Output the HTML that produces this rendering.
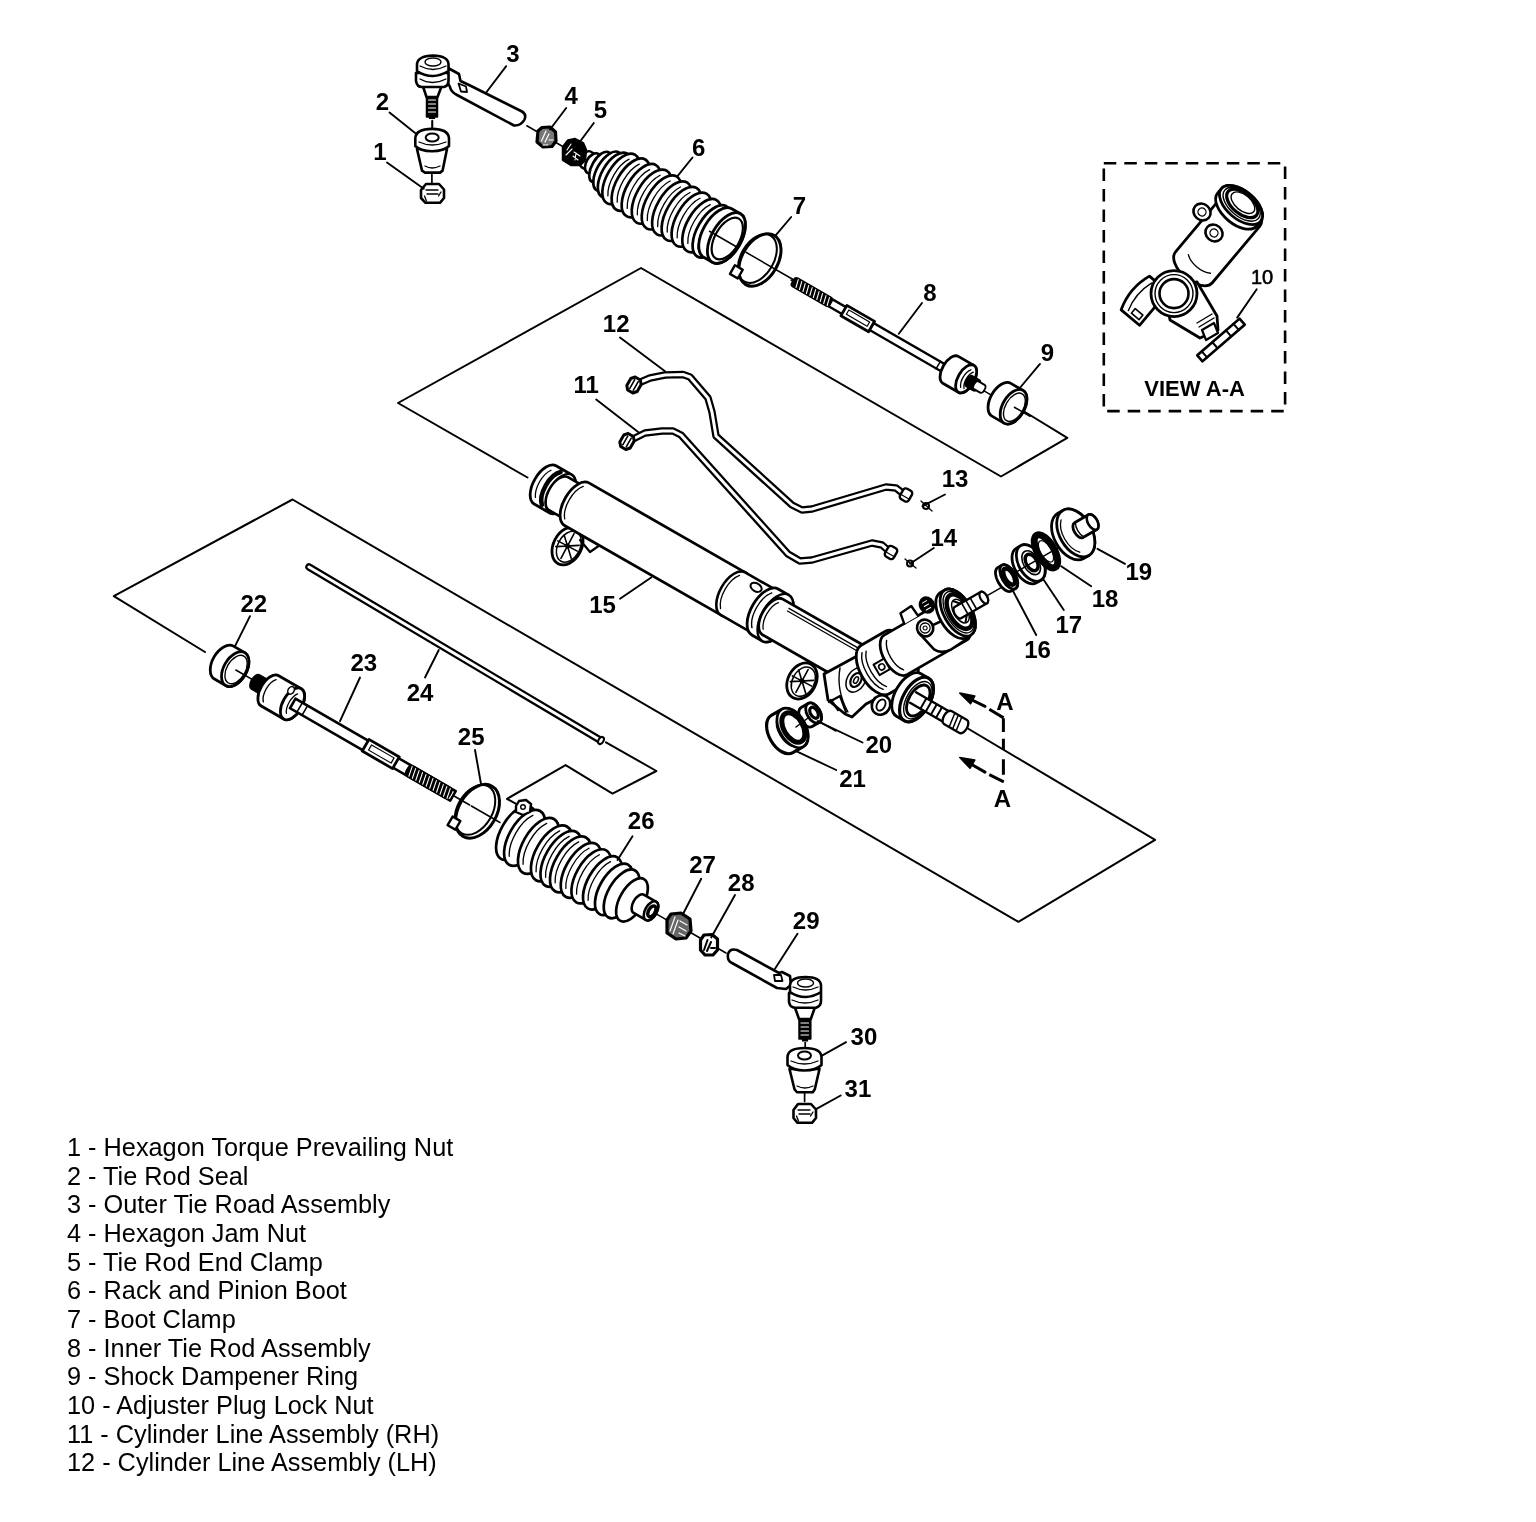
<!DOCTYPE html>
<html><head><meta charset="utf-8"><style>
html,body{margin:0;padding:0;background:#fff;width:1536px;height:1522px;overflow:hidden}
svg{position:absolute;left:0;top:0;filter:grayscale(1)}
.lb{font-family:"Liberation Sans",sans-serif;font-weight:bold;font-size:24px;fill:#000}
.lg{font-family:"Liberation Sans",sans-serif;font-size:25.3px;fill:#000}
</style></head><body>
<svg width="1536" height="1522" viewBox="0 0 1536 1522" stroke-linecap="round" stroke-linejoin="round">
<rect width="1536" height="1522" fill="#fff"/>
<g stroke="#000" fill="none" stroke-width="2">
<polyline points="527.5,477.5 398.0,403.0 641.0,268.0 1001.0,476.5 1067.3,437.8 1025.0,412.0" stroke-width="2" fill="none"/>
<polyline points="205.0,652.0 113.8,596.2 292.5,499.5 1018.4,921.8 1155.1,839.8 962.0,725.0" stroke-width="2" fill="none"/>
<polyline points="517.0,804.4 507.0,798.8 565.6,765.1 612.5,793.6 656.4,771.0 606.0,742.3" stroke-width="2" fill="none"/>
</g>
<g stroke="#000" fill="#fff" stroke-width="2.6">

<path d="M448,68 L459,74 L460.5,81 L470,85.5 L521,111 Q527,114 524.5,119.5 Q521,126 514,125.5 L457,95 Q451,92 450,87 L448,83 Z"/>
<path d="M458.5,83.5 L466,86.5 L467,92 L461,91.5 Z" stroke-width="1.8"/>
<path d="M423,86.5 L426.5,97 L437.5,97 L441.5,86.5 Z"/>
<rect x="426.5" y="97" width="11" height="20" fill="#000" stroke-width="1.5"/>
<path d="M428.5,100 h7 M428.5,104 h7 M428.5,108 h7 M428.5,112 h7" stroke="#fff" stroke-width="1.2"/>
<rect x="429.5" y="116" width="5" height="2.5" fill="#000" stroke-width="1.2"/>
<path d="M416,73 L416,81 Q417,87 422,87 L444,87 Q448.5,86 448.5,80 L448.5,73 Z"/>
<path d="M420,79 Q432,86 446,79" fill="none" stroke-width="1.3"/>
<path d="M417,64 Q418,56 433,55.5 Q448,56 448.5,64 L448.5,71 Q440,76 433,76 Q424,76 417,71 Z"/>
<ellipse cx="433" cy="62" rx="8" ry="4" fill="none" stroke-width="1.4"/>
<path d="M420,66 Q433,73 446,66" fill="none" stroke-width="1.3"/>
<path d="M432.3,120.5 V127.5" stroke-width="1.7"/>


<path d="M417,149 L422,170.6 L425,172.6 L440,172.6 L442.6,170.6 L447,149 Z"/>
<path d="M425,166 Q432,170 440,166" fill="none" stroke-width="1.3"/>
<path d="M415.3,138 Q416,129 432,128.9 Q448,129 449,138 L449,146 Q444,151 432,151.2 Q420,151 415.3,146 Z"/>
<path d="M419,142 Q432,148 446,142" fill="none" stroke-width="1.3"/>
<ellipse cx="432.2" cy="137.5" rx="6.5" ry="4" stroke-width="2"/>
<path d="M432.3,121 V127.5 M431.9,174.5 V183.5" stroke-width="1.7"/>


<path d="M421,190 L426,184 L439,184 L444,189.5 L444,198 L440,202.8 L425.5,202.8 L421,198 Z"/>
<path d="M426,190 L438,190 M427,194 L438,194 M424.5,196 L426.5,201 M438.5,196 L441,192" fill="none" stroke-width="1.3"/>

</g>
<g transform="translate(545,136.25) rotate(30)" stroke="#000" fill="#fff">
<path d="M-21,0 H-10 M9,0 H22 M44,0 H52 M300,1.5 H285 M455,1.5 H470 M505,1 H528" stroke-width="1.5" fill="none"/>
<path d="M47.0,-9.5 L56.0,-9.5 A4.8,9.0 0 0 1 56.0,8.5 L47.0,8.5 A4.8,9.0 0 0 1 47.0,-9.5 Z" stroke-width="2.4" fill="#fff"/>
<ellipse cx="55.0" cy="-0.5" rx="6.6" ry="11.0" stroke-width="2.6" fill="#fff" />
<ellipse cx="63.5" cy="-1.0" rx="8.5" ry="17.0" stroke-width="2.7" fill="#fff" />
<ellipse cx="72.0" cy="-1.0" rx="11.0" ry="22.0" stroke-width="2.7" fill="#fff" />
<ellipse cx="79.5" cy="-1.0" rx="12.5" ry="25.0" stroke-width="2.7" fill="#fff" />
<ellipse cx="87.0" cy="-1.0" rx="14.0" ry="28.0" stroke-width="2.7" fill="#fff" />
<path d="M84.3,-22.2 A13.2,26.5 0 0 0 84.3,20.2" fill="none" stroke-width="1.3"/>
<ellipse cx="98.5" cy="-1.0" rx="14.5" ry="29.0" stroke-width="2.7" fill="#fff" />
<path d="M95.5,-23.0 A13.8,27.5 0 0 0 95.5,21.0" fill="none" stroke-width="1.3"/>
<ellipse cx="110.5" cy="-1.0" rx="14.8" ry="29.5" stroke-width="2.7" fill="#fff" />
<path d="M107.3,-23.4 A14.0,28.0 0 0 0 107.3,21.4" fill="none" stroke-width="1.3"/>
<ellipse cx="122.5" cy="-1.0" rx="15.0" ry="30.0" stroke-width="2.7" fill="#fff" />
<path d="M119.2,-23.8 A14.2,28.5 0 0 0 119.2,21.8" fill="none" stroke-width="1.3"/>
<ellipse cx="134.0" cy="-1.0" rx="15.0" ry="30.0" stroke-width="2.7" fill="#fff" />
<path d="M130.7,-23.8 A14.2,28.5 0 0 0 130.7,21.8" fill="none" stroke-width="1.3"/>
<ellipse cx="146.0" cy="-1.0" rx="15.0" ry="30.0" stroke-width="2.7" fill="#fff" />
<path d="M142.7,-23.8 A14.2,28.5 0 0 0 142.7,21.8" fill="none" stroke-width="1.3"/>
<ellipse cx="157.0" cy="-1.0" rx="15.0" ry="30.0" stroke-width="2.7" fill="#fff" />
<path d="M153.7,-23.8 A14.2,28.5 0 0 0 153.7,21.8" fill="none" stroke-width="1.3"/>
<ellipse cx="168.5" cy="-1.0" rx="15.0" ry="30.0" stroke-width="2.7" fill="#fff" />
<path d="M165.2,-23.8 A14.2,28.5 0 0 0 165.2,21.8" fill="none" stroke-width="1.3"/>
<ellipse cx="180.5" cy="-1.0" rx="14.8" ry="29.5" stroke-width="2.7" fill="#fff" />
<path d="M177.3,-23.4 A14.0,28.0 0 0 0 177.3,21.4" fill="none" stroke-width="1.3"/>
<ellipse cx="192.0" cy="-1.0" rx="14.5" ry="29.0" stroke-width="2.7" fill="#fff" />
<path d="M189.0,-23.0 A13.8,27.5 0 0 0 189.0,21.0" fill="none" stroke-width="1.3"/>
<path d="M198.0,-30.5 L208.0,-30.5 A14.8,28.0 0 0 1 208.0,25.5 L198.0,25.5 A14.8,28.0 0 0 1 198.0,-30.5 Z" stroke-width="2.8" fill="#fff"/>
<ellipse cx="208.0" cy="-2.5" rx="14.8" ry="28.0" stroke-width="2.8" fill="#fff" />
<ellipse cx="209.0" cy="-2.5" rx="12.2" ry="23.0" stroke-width="2.2" fill="#fff" />
<path d="M190,0 H222" stroke-width="1.5" fill="none"/>
<g transform="translate(248,-0.3)">
<ellipse rx="18" ry="28.4" fill="none" stroke-width="3"/><ellipse cx="-3" rx="16.5" ry="26.5" fill="none" stroke-width="2"/>
<rect x="-19" y="17" width="9" height="10" stroke-width="2.4"/>
</g>
<path d="M232,0 H288" stroke-width="1.5" fill="none"/>
<rect x="330" y="-2.5" width="140" height="8" stroke-width="2.3"/>
<rect x="346" y="-4.5" width="32" height="12" stroke-width="2.8"/>
<rect x="350" y="-1.5" width="24" height="5" stroke-width="1.2"/>
<rect x="287" y="-3.5" width="44" height="10" rx="3" fill="#000" stroke-width="1.5"/>
<path d="M291,-2.5 l2,8 M295,-2.5 l2,8 M299,-2.5 l2,8 M303,-2.5 l2,8 M307,-2.5 l2,8 M311,-2.5 l2,8 M315,-2.5 l2,8 M319,-2.5 l2,8 M323,-2.5 l2,8 M327,-2.5 l2,8" stroke="#fff" stroke-width="1.1"/>
<path d="M455,-3 V6 M462,-3 V6" stroke-width="1.5"/>
<path d="M468.0,-16.0 L486.0,-16.0 A8.2,15.5 0 0 1 486.0,15.0 L468.0,15.0 A8.2,15.5 0 0 1 468.0,-16.0 Z" stroke-width="2.8" fill="#fff"/>
<ellipse cx="486.0" cy="-0.5" rx="8.2" ry="15.5" stroke-width="2.8" fill="#fff" />
<path d="M485.6,-10.7 A6.4,12.0 0 0 0 485.6,9.7" fill="none" stroke-width="1.3"/>
<path d="M488.9,-9.8 A5.8,11.0 0 0 0 488.9,8.8" fill="none" stroke-width="1.3"/>
<path d="M490.0,-6.0 L498.0,-6.0 A3.2,6.0 0 0 1 498.0,6.0 L490.0,6.0 A3.2,6.0 0 0 1 490.0,-6.0 Z" stroke-width="2" fill="#000"/>
<path d="M498.0,-4.5 L505.0,-4.5 A2.4,4.5 0 0 1 505.0,4.5 L498.0,4.5 A2.4,4.5 0 0 1 498.0,-4.5 Z" stroke-width="1.8" fill="#fff"/>
<path d="M527.0,-18.9 L541.0,-18.9 A10.9,18.9 0 0 1 541.0,18.9 L527.0,18.9 A10.9,18.9 0 0 1 527.0,-18.9 Z" stroke-width="2.8" fill="#fff"/>
<ellipse cx="541.0" cy="0.0" rx="10.9" ry="18.9" stroke-width="2.8" fill="#fff" />
<ellipse cx="542.0" cy="0.0" rx="8.9" ry="15.5" stroke-width="1.4" fill="#fff" />
<path d="M542,0 H560" stroke-width="1.5" fill="none"/>
</g>
<g stroke="#000" stroke-width="2">
<path d="M538,131 L542,127.5 L550,127 L555.5,132 L556,141 L552,146.5 L543,147 L537,142 Z" fill="#777" stroke-width="3.2"/>
<path d="M541.5,141 L546,131 M545,142 L549,134 M549,140 h4 M543,145 h5" stroke="#fff" stroke-width="1.2" fill="none"/>
<path d="M563,147 L568,140.5 L575,139 L583,143 L586,150 L585,160 L580,165 L571,165 L563,160 Z" fill="#000" stroke-width="2.5"/>
<path d="M567,150 L571,144 M566,155 L572,149 M574,152 L580,156 M573,156 L578,160 M576,153 L575,160" stroke="#fff" stroke-width="1.1" fill="none"/>
</g>
<path d="M636.0,384.0 L650.0,378.0 L665.0,375.0 L683.0,374.5 L690.0,377.0 L708.0,398.0 L712.0,412.0 L716.0,436.0 L792.0,505.0 L802.0,510.0 L812.0,509.0 L886.0,487.0 L896.0,488.0 L905.0,495.0" fill="none" stroke="#000" stroke-width="7.5" stroke-linejoin="round"/><path d="M636.0,384.0 L650.0,378.0 L665.0,375.0 L683.0,374.5 L690.0,377.0 L708.0,398.0 L712.0,412.0 L716.0,436.0 L792.0,505.0 L802.0,510.0 L812.0,509.0 L886.0,487.0 L896.0,488.0 L905.0,495.0" fill="none" stroke="#fff" stroke-width="3.0" stroke-linejoin="round"/>
<path d="M629.0,441.0 L645.0,433.0 L662.0,431.0 L673.0,431.0 L681.0,435.0 L788.0,554.0 L800.0,561.0 L812.0,560.0 L872.0,543.0 L882.0,545.0 L890.0,552.0" fill="none" stroke="#000" stroke-width="7.5" stroke-linejoin="round"/><path d="M629.0,441.0 L645.0,433.0 L662.0,431.0 L673.0,431.0 L681.0,435.0 L788.0,554.0 L800.0,561.0 L812.0,560.0 L872.0,543.0 L882.0,545.0 L890.0,552.0" fill="none" stroke="#fff" stroke-width="3.0" stroke-linejoin="round"/>
<g stroke="#000" stroke-width="2.4" fill="#fff">
<g transform="translate(634,385) rotate(30)"><path d="M-6,-4 L-3,-7.5 L3,-7.5 L6,-4 L6,4 L3,7.5 L-3,7.5 L-6,4 Z" stroke-width="3"/><path d="M-2,-5 V5 M2,-5 V5" stroke-width="1.6"/></g>
<g transform="translate(627,441.5) rotate(30)"><path d="M-6,-4 L-3,-7.5 L3,-7.5 L6,-4 L6,4 L3,7.5 L-3,7.5 L-6,4 Z" stroke-width="3"/><path d="M-2,-5 V5 M2,-5 V5" stroke-width="1.6"/></g>
<g transform="translate(906,495) rotate(-60)"><rect x="-6" y="-5" width="12" height="10" rx="3"/><path d="M-2,-5 V5" stroke-width="1.2"/></g>
<g transform="translate(891,552.5) rotate(-60)"><rect x="-6" y="-5" width="12" height="10" rx="3"/><path d="M-2,-5 V5" stroke-width="1.2"/></g>
<circle cx="926" cy="506" r="3" stroke-width="2"/><path d="M921,501 L932,511" stroke-width="1.3"/>
<circle cx="910" cy="563.5" r="3" stroke-width="2"/><path d="M905,559 L916,568" stroke-width="1.3"/>
</g>
<g transform="translate(604.1,518.7) rotate(29.8)" stroke="#000" fill="#fff">
</g>
<g stroke="#000" fill="#fff">
<g transform="translate(567.5,546) rotate(28)"><ellipse rx="14" ry="20" stroke-width="2.8"/><ellipse cx="1.5" rx="11" ry="16.5" stroke-width="1.5"/><path d="M-8,-8 L9,9 M-10,6 L10,-6 M0,-14 V14 M-11,0 H11" stroke-width="1.6"/><circle r="2" fill="#000" stroke-width="1"/></g>
<path d="M580,540 L590,552 L600,545" stroke-width="2.2" fill="none"/>
<g transform="translate(802,681) rotate(28)"><ellipse rx="14" ry="19" stroke-width="2.8"/><ellipse cx="1.5" rx="11" ry="15.5" stroke-width="1.5"/><path d="M-8,-8 L9,9 M-10,6 L10,-6 M0,-13 V13 M-11,0 H11" stroke-width="1.6"/><circle r="2" fill="#000" stroke-width="1"/></g>
</g>
<g transform="translate(604.1,518.7) rotate(29.8)" stroke="#000" fill="#fff">
<path d="M-68.0,-22.0 L-50.0,-22.0 A11.7,22.0 0 0 1 -50.0,22.0 L-68.0,22.0 A11.7,22.0 0 0 1 -68.0,-22.0 Z" stroke-width="2.8" fill="#fff"/>
<path d="M-60.9,-18.9 A11.1,21.0 0 0 0 -60.9,18.9" fill="none" stroke-width="4.5"/>
<path d="M-70.2,-15.6 A10.3,19.5 0 0 0 -70.2,15.6" fill="none" stroke-width="1.3"/>
<ellipse cx="-50.0" cy="0.0" rx="11.7" ry="22.0" stroke-width="2.4" fill="#fff" />
<path d="M-52.0,-18.0 L-32.0,-18.0 A10.1,19.0 0 0 1 -32.0,20.0 L-52.0,20.0 A10.1,19.0 0 0 1 -52.0,-18.0 Z" stroke-width="2.6" fill="#fff"/>
<path d="M-31.0,-23.5 L150.0,-23.5 A13.0,24.5 0 0 1 150.0,25.5 L-31.0,25.5 A13.0,24.5 0 0 1 -31.0,-23.5 Z" stroke-width="2.8" fill="#fff"/>
<path d="M-34.1,-17.7 A11.7,22.0 0 0 0 -34.1,19.7" fill="none" stroke-width="1.3"/>
<ellipse cx="150.0" cy="1.0" rx="13.0" ry="24.5" stroke-width="2.4" fill="#fff" />
<path d="M149.0,-23.5 L186.0,-23.5 A13.0,24.5 0 0 1 186.0,25.5 L149.0,25.5 A13.0,24.5 0 0 1 149.0,-23.5 Z" stroke-width="2.6" fill="#fff"/>
<path d="M145.7,-18.1 A11.9,22.5 0 0 0 145.7,20.1" fill="none" stroke-width="1.3"/>
<ellipse cx="166" cy="-16" rx="6" ry="4" stroke-width="2"/>
<path d="M186.0,-25.5 L198.0,-25.5 A14.0,26.5 0 0 1 198.0,27.5 L186.0,27.5 A14.0,26.5 0 0 1 186.0,-25.5 Z" stroke-width="2.8" fill="#fff"/>
<path d="M182.4,-19.0 A12.5,23.5 0 0 0 182.4,21.0" fill="none" stroke-width="1.4"/>
<ellipse cx="198.0" cy="1.0" rx="14.0" ry="26.5" stroke-width="2.4" fill="#fff" />
<path d="M195.0,-19.0 L290.0,-19.0 A10.9,20.5 0 0 1 290.0,22.0 L195.0,22.0 A10.9,20.5 0 0 1 195.0,-19.0 Z" stroke-width="2.8" fill="#fff"/>
<path d="M193.0,-13.8 A9.5,18.0 0 0 0 193.0,16.8" fill="none" stroke-width="1.3"/>
<path d="M205,-14 H300 M205,-11 H300" stroke-width="1.3"/>
</g>
<g stroke="#000" fill="#fff">
<path d="M824,674 L857,656 L883,650 L893,690 L866,704 L852,717 L845,714 L828,700 Z" stroke-width="2.8"/>
<g transform="translate(856,680) rotate(30)"><ellipse rx="9" ry="13" stroke-width="1.5"/><ellipse rx="5" ry="7.5" stroke-width="2.2"/><ellipse rx="2" ry="3.5" stroke-width="1.5"/></g>
<path d="M840,668 Q836,690 848,712" fill="none" stroke-width="1.4"/>
<path d="M829,702 L840,696 L846,712 M831,700 L838,710" fill="none" stroke-width="2.2"/>
<g transform="translate(881,705) rotate(30)"><ellipse rx="9" ry="10" stroke-width="2.6"/><ellipse rx="4" ry="6" stroke-width="1.8"/></g>
</g>
<g transform="translate(957.8,612.6) rotate(-30)" stroke="#000" fill="#fff">
<path d="M-100.0,-20.0 L-72.0,-20.0 A14.8,28.0 0 0 1 -72.0,36.0 L-100.0,36.0 A14.8,28.0 0 0 1 -100.0,-20.0 Z" stroke-width="2.8" fill="#fff"/>
<path d="M-103.0,-13.2 A13.2,25.0 0 0 0 -103.0,29.2" fill="none" stroke-width="1.4"/>
<path d="M-98.7,-12.4 A12.7,24.0 0 0 0 -98.7,28.4" fill="none" stroke-width="1.4"/>
<path d="M-75.0,-17.3 L-6.0,-17.3 A12.1,22.8 0 0 1 -6.0,28.3 L-75.0,28.3 A12.1,22.8 0 0 1 -75.0,-17.3 Z" stroke-width="2.8" fill="#fff"/>
<path d="M-75.6,-11.5 A10.6,20.0 0 0 0 -75.6,22.5" fill="none" stroke-width="1.4"/>
<rect x="-99" y="3" width="12" height="12" stroke-width="2"/><circle cx="-93" cy="9" r="3" stroke-width="1.6"/>
<path d="M-52,-17 L-50,-28 L-37,-29 L-36,-17" stroke-width="2.4"/>
<g transform="translate(-23,-22)"><ellipse rx="7" ry="8" fill="#000" stroke-width="2"/><path d="M-3,-4 h5 M-3,0 h5 M-3,4 h5" stroke="#fff" stroke-width="1"/></g>
<path d="M-44,-3 L-39,20 Q-35,28 -24,28.5 L-6,27.5 L-8,0 Z" stroke-width="2.6"/>
<g transform="translate(-36,-3)"><ellipse rx="8" ry="8.5" stroke-width="2.6"/><circle r="5" stroke-width="1.3"/><circle r="2" stroke-width="1"/></g>
<path d="M-5.0,-26.0 L0.0,-26.0 A13.8,26.0 0 0 1 0.0,26.0 L-5.0,26.0 A13.8,26.0 0 0 1 -5.0,-26.0 Z" stroke-width="2.8" fill="#fff"/>
<ellipse cx="0.0" cy="0.0" rx="13.8" ry="26.0" stroke-width="2.8" fill="#fff" />
<ellipse cx="1.0" cy="0.0" rx="12.2" ry="23.0" stroke-width="1.4" fill="#fff" />
<ellipse cx="2.0" cy="0.0" rx="10.1" ry="19.0" stroke-width="4.5" fill="#fff" />
<ellipse cx="3.0" cy="0.0" rx="6.9" ry="13.0" stroke-width="1.5" fill="#fff" />
<path d="M2,-12 L8,-5 M2,12 L8,5" stroke-width="2"/>
<path d="M0.0,-6.5 L30.0,-6.5 A3.4,6.5 0 0 1 30.0,6.5 L0.0,6.5 A3.4,6.5 0 0 1 0.0,-6.5 Z" stroke-width="2.4" fill="#fff"/>
<ellipse cx="30.0" cy="0.0" rx="3.4" ry="6.5" stroke-width="2.2" fill="#fff" />
<path d="M8,-6.5 V6.5 M13,-6.5 V6.5 M18,-6.5 V6.5" stroke-width="1.6"/>
<path d="M34,0 H52" stroke-width="1.5" fill="none"/>
</g>
<g transform="translate(916.5,699.5) rotate(30)" stroke="#000" fill="#fff">
<path d="M-9.0,-24.5 L0.0,-24.5 A13.5,24.5 0 0 1 0.0,24.5 L-9.0,24.5 A13.5,24.5 0 0 1 -9.0,-24.5 Z" stroke-width="2.8" fill="#fff"/>
<ellipse cx="0.0" cy="0.0" rx="13.5" ry="24.5" stroke-width="3.2" fill="#fff" />
<ellipse cx="1.5" cy="0.0" rx="11.3" ry="20.5" stroke-width="1.4" fill="#fff" />
<ellipse cx="2.0" cy="0.0" rx="9.4" ry="17.0" stroke-width="2.8" fill="#fff" />
<path d="M-4,-6 L52,-6 L52,6 L-4,6" stroke-width="2.4"/>
<path d="M8,-6 V6 M14,-6 V6 M20,-6 V6 M26,-6 V6" stroke-width="2"/>
<path d="M36.0,-7.5 L54.0,-7.5 A4.0,7.5 0 0 1 54.0,7.5 L36.0,7.5 A4.0,7.5 0 0 1 36.0,-7.5 Z" stroke-width="2.4" fill="#fff"/>
<path d="M40,-7.5 l2,15 M44,-7.5 l2,15 M48,-7.5 l2,15" stroke-width="1.5"/>
</g>
<g transform="translate(957.8,612.6) rotate(-30)" stroke="#000" fill="#fff">
<path d="M57.0,-19.0 L62.0,-19.0 A6.8,13.5 0 0 1 62.0,8.0 L57.0,8.0 A6.8,13.5 0 0 1 57.0,-19.0 Z" stroke-width="2.8" fill="#fff"/>
<ellipse cx="62.0" cy="-5.5" rx="6.8" ry="13.5" stroke-width="2.8" fill="#fff" />
<ellipse cx="62.5" cy="-5.5" rx="4.5" ry="9.0" stroke-width="4.5" fill="#fff" />
<path d="M83.0,-26.5 L88.0,-26.5 A12.0,20.0 0 0 1 88.0,13.5 L83.0,13.5 A12.0,20.0 0 0 1 83.0,-26.5 Z" stroke-width="2.8" fill="#fff"/>
<ellipse cx="88.0" cy="-6.5" rx="12.0" ry="20.0" stroke-width="2.8" fill="#fff" />
<ellipse cx="88.5" cy="-6.5" rx="7.8" ry="13.0" stroke-width="1.6" fill="#fff" />
<ellipse cx="89.0" cy="-6.5" rx="5.4" ry="9.0" stroke-width="3.5" fill="#fff" />
<ellipse cx="107.0" cy="-9.0" rx="8.3" ry="18.5" stroke-width="7" fill="none" />
<ellipse cx="107.0" cy="-9.0" rx="5.4" ry="12.0" stroke-width="1.2" fill="none" />
<path d="M70,-6 H125" stroke-width="1.5" fill="none"/>
<path d="M136.0,-36.0 L142.0,-36.0 A16.1,26.0 0 0 1 142.0,16.0 L136.0,16.0 A16.1,26.0 0 0 1 136.0,-36.0 Z" stroke-width="2.8" fill="#fff"/>
<ellipse cx="142.0" cy="-10.0" rx="16.1" ry="26.0" stroke-width="2.8" fill="#fff" />
<path d="M135.8,-28.7 A13.6,22.0 0 0 0 135.8,8.7" fill="none" stroke-width="1.3"/>
<path d="M146.0,-19.5 L162.0,-19.5 A4.7,8.5 0 0 1 162.0,-2.5 L146.0,-2.5 A4.7,8.5 0 0 1 146.0,-19.5 Z" stroke-width="2.8" fill="#fff"/>
<ellipse cx="162.0" cy="-11.0" rx="4.7" ry="8.5" stroke-width="2.6" fill="#fff" />
<path d="M146.9,-19.4 A7.2,12.0 0 0 0 146.9,-2.6" fill="none" stroke-width="1.4"/>
</g>
<g stroke="#000" fill="#fff">
<g transform="translate(811,714.5) rotate(-30)"><path d="M-5.0,-11.0 L3.0,-11.0 A6.6,11.0 0 0 1 3.0,11.0 L-5.0,11.0 A6.6,11.0 0 0 1 -5.0,-11.0 Z" stroke-width="2.8" fill="#fff"/><ellipse cx="3.0" cy="0.0" rx="6.6" ry="11.0" stroke-width="2.8" fill="#fff" /><ellipse cx="3.5" cy="0.0" rx="3.6" ry="6.0" stroke-width="3.2" fill="#fff" /></g>
<path d="M818,721 L836,731" stroke-width="1.5"/>
<g transform="translate(789,730) rotate(-30)"><path d="M-8.0,-21.5 L4.0,-21.5 A12.9,21.5 0 0 1 4.0,21.5 L-8.0,21.5 A12.9,21.5 0 0 1 -8.0,-21.5 Z" stroke-width="3.2" fill="#fff"/><ellipse cx="4.0" cy="0.0" rx="12.9" ry="21.5" stroke-width="2.6" fill="#fff" /><ellipse cx="5.0" cy="0.0" rx="9.6" ry="16.0" stroke-width="5" fill="#fff" /><path d="M-5.0,-16.1 A11.4,19.0 0 0 0 -5.0,16.1" fill="none" stroke-width="1.3"/></g>
<path d="M796,727 L808,718" stroke-width="1.5"/>
</g>
<g stroke="#000" fill="#000">
<path d="M959.8,693.1 L974.8,696.1 L970.5,703.8 Z" stroke-width="1.5"/>
<path d="M970,699 L985,706.3" stroke-width="3"/>
<path d="M959.8,757.6 L974.8,760.1 L970,768.3 Z" stroke-width="1.5"/>
<path d="M970,763.5 L985,772.1" stroke-width="3"/>
<path d="M989.3,709.3 L1003.6,717.9 M1003.4,718.3 V732 M1003.4,738.8 V749.9 M1003.4,759.3 V774.7 M989.3,774.7 L1003.8,781.9" stroke-width="3" fill="none" stroke-linecap="butt"/>
</g>
<rect x="1103.8" y="163.3" width="181.3" height="247.8" fill="none" stroke="#000" stroke-width="2.6" stroke-dasharray="12.5 8" stroke-linecap="butt"/>
<g transform="translate(677.5,925) rotate(30)" stroke="#000" fill="#fff">
<path d="M-524.0,-19.5 L-511.0,-19.5 A11.4,19.0 0 0 1 -511.0,18.5 L-524.0,18.5 A11.4,19.0 0 0 1 -524.0,-19.5 Z" stroke-width="2.8" fill="#fff"/>
<ellipse cx="-511.0" cy="-0.5" rx="11.4" ry="19.0" stroke-width="2.8" fill="#fff" />
<ellipse cx="-510.0" cy="-0.5" rx="9.3" ry="15.5" stroke-width="1.4" fill="#fff" />
<path d="M-510,0 H-480" stroke-width="1.5" fill="none"/>
<path d="M-487.0,-7.5 L-472.0,-7.5 A4.2,8.0 0 0 1 -472.0,8.5 L-487.0,8.5 A4.2,8.0 0 0 1 -487.0,-7.5 Z" stroke-width="2" fill="#000"/>
<path d="M-470.0,-16.5 L-444.0,-16.5 A9.6,17.5 0 0 1 -444.0,18.5 L-470.0,18.5 A9.6,17.5 0 0 1 -470.0,-16.5 Z" stroke-width="2.8" fill="#fff"/>
<path d="M-470.3,-11.8 A8.2,15.0 0 0 0 -470.3,13.8" fill="none" stroke-width="1.4"/>
<ellipse cx="-444.0" cy="1.0" rx="9.6" ry="17.5" stroke-width="2.8" fill="#fff" />
<path d="M-444.6,-10.2 A7.7,14.0 0 0 0 -444.6,12.2" fill="none" stroke-width="1.3"/>
<ellipse cx="-452" cy="-10" rx="3" ry="4" stroke-width="1.5"/>
<rect x="-444" y="-5" width="185" height="11" stroke-width="2.6"/>
<path d="M-436,-5 V6 M-430,-5 V6" stroke-width="1.6"/>
<rect x="-360" y="-6.5" width="35" height="13.5" stroke-width="2.8"/>
<rect x="-355" y="-3" width="26" height="6" stroke-width="1.2"/>
<rect x="-312" y="-5.5" width="50" height="12" rx="4" fill="#000" stroke-width="1.5"/>
<path d="M-309,-4.5 l2,10 M-305,-4.5 l2,10 M-301,-4.5 l2,10 M-297,-4.5 l2,10 M-293,-4.5 l2,10 M-289,-4.5 l2,10 M-285,-4.5 l2,10 M-281,-4.5 l2,10 M-277,-4.5 l2,10 M-273,-4.5 l2,10 M-269,-4.5 l2,10 M-265,-4.5 l2,10" stroke="#fff" stroke-width="1.1"/>
<path d="M-258,0 H-240" stroke-width="1.5" fill="none"/>
<g transform="translate(-230,1.5)"><ellipse rx="19" ry="29" fill="none" stroke-width="3"/><ellipse cx="-3" rx="17.5" ry="27" fill="none" stroke-width="2"/><rect x="-19" y="17" width="9" height="10" stroke-width="2.4"/></g>
<path d="M-238,0 H-205" stroke-width="1.5" fill="none"/>
<ellipse cx="-186.0" cy="1.0" rx="15.0" ry="30.0" stroke-width="2.7" fill="#fff" />
<ellipse cx="-176.0" cy="1.0" rx="15.5" ry="31.0" stroke-width="2.7" fill="#fff" />
<path d="M-180.1,-22.6 A14.8,29.5 0 0 0 -180.1,24.6" fill="none" stroke-width="1.3"/>
<ellipse cx="-160.0" cy="1.0" rx="15.5" ry="31.0" stroke-width="2.7" fill="#fff" />
<path d="M-164.1,-22.6 A14.8,29.5 0 0 0 -164.1,24.6" fill="none" stroke-width="1.3"/>
<ellipse cx="-145.0" cy="1.0" rx="15.5" ry="31.0" stroke-width="2.7" fill="#fff" />
<path d="M-149.1,-22.6 A14.8,29.5 0 0 0 -149.1,24.6" fill="none" stroke-width="1.3"/>
<ellipse cx="-134.0" cy="1.0" rx="15.5" ry="31.0" stroke-width="2.7" fill="#fff" />
<path d="M-138.1,-22.6 A14.8,29.5 0 0 0 -138.1,24.6" fill="none" stroke-width="1.3"/>
<ellipse cx="-123.0" cy="1.0" rx="15.5" ry="31.0" stroke-width="2.7" fill="#fff" />
<path d="M-127.1,-22.6 A14.8,29.5 0 0 0 -127.1,24.6" fill="none" stroke-width="1.3"/>
<ellipse cx="-111.0" cy="1.0" rx="15.2" ry="30.5" stroke-width="2.7" fill="#fff" />
<path d="M-115.0,-22.2 A14.5,29.0 0 0 0 -115.0,24.2" fill="none" stroke-width="1.3"/>
<ellipse cx="-99.0" cy="1.0" rx="15.0" ry="30.0" stroke-width="2.7" fill="#fff" />
<path d="M-102.8,-21.8 A14.2,28.5 0 0 0 -102.8,23.8" fill="none" stroke-width="1.3"/>
<ellipse cx="-86.0" cy="1.0" rx="14.8" ry="29.5" stroke-width="2.7" fill="#fff" />
<path d="M-89.7,-21.4 A14.0,28.0 0 0 0 -89.7,23.4" fill="none" stroke-width="1.3"/>
<ellipse cx="-73.0" cy="1.0" rx="14.2" ry="28.5" stroke-width="2.7" fill="#fff" />
<ellipse cx="-64.0" cy="1.0" rx="13.5" ry="27.0" stroke-width="2.7" fill="#fff" />
<ellipse cx="-52.0" cy="1.0" rx="12.0" ry="24.0" stroke-width="2.7" fill="#fff" />
<path d="M-44.0,-9.5 L-30.0,-9.5 A5.8,10.5 0 0 1 -30.0,11.5 L-44.0,11.5 A5.8,10.5 0 0 1 -44.0,-9.5 Z" stroke-width="2.6" fill="#fff"/>
<ellipse cx="-30.0" cy="1.0" rx="5.8" ry="10.5" stroke-width="2.6" fill="#fff" />
<ellipse cx="-29.0" cy="1.0" rx="3.3" ry="6.0" stroke-width="3.5" fill="#fff" />
<path d="M-26,1 H-12 M10,0 H26 M46,0 H56" stroke-width="1.5" fill="none"/>
</g>
<path d="M516,806 L519,801 L526,800 L531,804 L530,812 L523,815 L516,812 Z" stroke="#000" fill="#fff" stroke-width="2.4"/>
<circle cx="523" cy="807" r="2.3" stroke="#000" fill="#fff" stroke-width="1.4"/>
<g stroke="#000">
<path d="M667,920 L671,914 L681,913 L690,919 L691,931 L686,938 L676,939 L667,933 Z" fill="#666" stroke-width="3.2"/>
<path d="M670,931 L675,917 M673,934 L678,920 M680,921 L687,925 M679,927 L686,931 M679,933 L685,936" stroke="#fff" stroke-width="1.2" fill="none"/>
<path d="M700.5,940 L704,935 L712,934.5 L717.5,939 L717.5,950 L713,955 L705,955 L700.5,950 Z" fill="#fff" stroke-width="3.2"/>
<path d="M704,950 L707.5,940 M707,951 L711,942 M711,948 h4" stroke-width="2" fill="none"/>
</g>
<g stroke="#000" fill="#fff" stroke-width="2.6">

<path d="M737,950 Q730,948 728,954 Q727,961 732,963 L777,988 L786,989 L791,985 L790,976 L782,972 L779,973 Z"/>
<path d="M774,975 L781,975 L782.5,981 L775,981 Z" stroke-width="1.8"/>
<path d="M795,1007.7 L799,1019 L810.8,1019 L814.8,1007.7 Z"/>
<rect x="799" y="1019" width="11.8" height="20" fill="#000" stroke-width="1.5"/>
<path d="M801,1023 h7.5 M801,1027 h7.5 M801,1031 h7.5 M801,1035 h7.5" stroke="#fff" stroke-width="1.2"/>
<rect x="802.5" y="1038.5" width="5" height="2.5" fill="#000" stroke-width="1.2"/>
<path d="M789,993 L789,1002 Q790,1007.7 795,1007.7 L816,1007.7 Q821,1006 821,1001 L821,993 Z"/>
<path d="M792,1000 Q805,1006 818,1000" fill="none" stroke-width="1.3"/>
<path d="M790,985 Q791,977 805.5,977 Q820,977 821,985 L821,992 Q813,997 805.5,997 Q797,997 790,992 Z"/>
<ellipse cx="805.5" cy="983" rx="8" ry="4" fill="none" stroke-width="1.4"/>
<path d="M793,987 Q805.5,993 818,987" fill="none" stroke-width="1.3"/>
<path d="M805.2,1042.5 V1046.5" stroke-width="1.7"/>


<path d="M789.5,1069 L794.5,1089.2 L797,1092.3 L812.8,1092.3 L814.8,1089.2 L819.5,1069 Z"/>
<path d="M797,1086 Q805,1090 813,1086" fill="none" stroke-width="1.3"/>
<path d="M787.5,1057 Q788,1048 804.5,1048 Q821,1048 821.5,1057 L821.5,1065 Q816,1070.5 804.5,1070.5 Q793,1070.5 787.5,1065 Z"/>
<path d="M791,1061 Q804.5,1067 818,1061" fill="none" stroke-width="1.3"/>
<ellipse cx="804.5" cy="1055.5" rx="6.5" ry="4" stroke-width="2"/>
<path d="M804.6,1093.5 V1101.5" stroke-width="1.7"/>


<path d="M793.5,1110 L798,1104 L811,1104 L816,1109.5 L816,1118 L812,1122.8 L797.5,1122.8 L793.5,1118 Z"/>
<path d="M798,1110 L810,1110 M799,1114 L810,1114 M796.5,1116 L798.5,1121 M810.5,1116 L813,1112" fill="none" stroke-width="1.3"/>

</g>
<g stroke="#000" fill="#fff">
<g transform="translate(1241,205) rotate(-50)">
<path d="M-78.0,-20.0 L-4.0,-20.0 A13.2,24.0 0 0 1 -4.0,28.0 L-78.0,28.0 A13.2,24.0 0 0 1 -78.0,-20.0 Z" stroke-width="2.8" fill="#fff"/>
<path d="M-6.0,-25.5 L0.0,-25.5 A14.0,25.5 0 0 1 0.0,25.5 L-6.0,25.5 A14.0,25.5 0 0 1 -6.0,-25.5 Z" stroke-width="2.8" fill="#fff"/>
<ellipse cx="0.0" cy="0.0" rx="14.0" ry="25.5" stroke-width="2.8" fill="#fff" />
<ellipse cx="1.0" cy="0.0" rx="12.1" ry="22.0" stroke-width="1.4" fill="#fff" />
<ellipse cx="2.0" cy="0.0" rx="10.2" ry="18.5" stroke-width="3.2" fill="#fff" />
<ellipse cx="3.0" cy="0.0" rx="7.7" ry="14.0" stroke-width="1.4" fill="#fff" />
<path d="M-71.9,-8.4 A9.9,18.0 0 0 0 -71.9,20.4" fill="none" stroke-width="1.4"/>
</g>
<g transform="translate(1202,212) rotate(-50)"><ellipse rx="8" ry="9" stroke-width="2.6"/><circle r="4" stroke-width="1.3"/></g>
<g transform="translate(1214,233) rotate(-50)"><ellipse rx="8" ry="9" stroke-width="2.6"/><circle r="4" stroke-width="1.3"/></g>
<path d="M1164,288 L1197,282 L1217,316 L1218,330 L1200,338 L1170,320 Z" stroke-width="2.8"/>
<path d="M1197,323 L1212,314 M1199,327 L1214,318" stroke-width="1.4"/>
<path d="M1202,330 L1214,323 L1218,333 L1206,340 Z" stroke-width="2.2"/>
<g transform="translate(1146,302) rotate(40)"><path d="M-14,-22 L10,-22 L10,22 L-14,22 Q-22,0 -14,-22 Z" stroke-width="2.8"/><path d="M-8,-18 Q-14,0 -8,18" fill="none" stroke-width="1.4"/><rect x="-4" y="12" width="10" height="6" stroke-width="1.6"/></g>
<ellipse cx="1174" cy="293.6" rx="23" ry="23" stroke-width="2.8"/>
<ellipse cx="1174" cy="293.6" rx="19" ry="19" stroke-width="1.4"/>
<ellipse cx="1174" cy="293.6" rx="14.5" ry="14.5" stroke-width="2.6"/>
<g transform="translate(1221,340) rotate(-41)"><rect x="-28" y="-4" width="56" height="8" stroke-width="2.6"/><path d="M-22,-4 V4 M-8,-4 V4 M10,-4 V4 M20,-4 V4" stroke-width="2"/></g>
</g>
<text x="1194.6" y="395.6" text-anchor="middle" style="font-family:'Liberation Sans',sans-serif;font-weight:bold;font-size:22px" fill="#000" stroke="none">VIEW A-A</text>
<text x="1262" y="283.5" text-anchor="middle" style="font-family:'Liberation Sans',sans-serif;font-size:20px" fill="#000" stroke="#000" stroke-width="0.6">10</text>
<path d="M309,567 L600,740" fill="none" stroke="#000" stroke-width="7.5" stroke-linecap="round"/>
<path d="M309,567 L600,740" fill="none" stroke="#fff" stroke-width="3" stroke-linecap="round"/>
<g transform="translate(601,740.5) rotate(30.7)"><ellipse rx="2.5" ry="3.8" fill="#fff" stroke="#000" stroke-width="2"/></g>
<g stroke="#000" fill="none">
<line x1="387.0" y1="162.5" x2="423.8" y2="188.8" stroke-width="1.9"/>
<line x1="389.5" y1="112.5" x2="417.0" y2="134.5" stroke-width="1.9"/>
<line x1="506.2" y1="66.2" x2="486.2" y2="92.5" stroke-width="1.9"/>
<line x1="566.2" y1="108.0" x2="550.0" y2="129.5" stroke-width="1.9"/>
<line x1="593.8" y1="123.0" x2="577.5" y2="145.0" stroke-width="1.9"/>
<line x1="692.5" y1="157.5" x2="677.5" y2="176.2" stroke-width="1.9"/>
<line x1="791.2" y1="217.0" x2="775.0" y2="236.2" stroke-width="1.9"/>
<line x1="922.0" y1="303.0" x2="898.8" y2="333.8" stroke-width="1.9"/>
<line x1="1040.0" y1="363.9" x2="1019.8" y2="388.0" stroke-width="1.9"/>
<line x1="1256.7" y1="289.2" x2="1237.2" y2="317.6" stroke-width="1.9"/>
<line x1="596.2" y1="399.5" x2="638.8" y2="432.5" stroke-width="1.9"/>
<line x1="620.0" y1="337.5" x2="665.0" y2="371.2" stroke-width="1.9"/>
<line x1="945.0" y1="494.5" x2="922.5" y2="506.2" stroke-width="1.9"/>
<line x1="933.8" y1="548.0" x2="910.0" y2="563.8" stroke-width="1.9"/>
<line x1="620.0" y1="598.8" x2="651.2" y2="577.5" stroke-width="1.9"/>
<line x1="1036.2" y1="635.0" x2="1012.5" y2="590.0" stroke-width="1.9"/>
<line x1="1063.8" y1="610.0" x2="1043.8" y2="580.0" stroke-width="1.9"/>
<line x1="1091.2" y1="586.2" x2="1061.2" y2="566.2" stroke-width="1.9"/>
<line x1="1125.0" y1="563.8" x2="1097.5" y2="548.8" stroke-width="1.9"/>
<line x1="862.5" y1="742.5" x2="817.5" y2="721.2" stroke-width="1.9"/>
<line x1="836.2" y1="770.0" x2="796.2" y2="751.2" stroke-width="1.9"/>
<line x1="250.0" y1="616.2" x2="235.0" y2="646.2" stroke-width="1.9"/>
<line x1="360.0" y1="677.5" x2="340.0" y2="721.2" stroke-width="1.9"/>
<line x1="425.0" y1="677.5" x2="438.8" y2="650.0" stroke-width="1.9"/>
<line x1="475.0" y1="750.0" x2="481.2" y2="785.0" stroke-width="1.9"/>
<line x1="632.5" y1="836.2" x2="617.5" y2="860.0" stroke-width="1.9"/>
<line x1="701.2" y1="878.8" x2="682.5" y2="915.0" stroke-width="1.9"/>
<line x1="735.0" y1="895.0" x2="711.2" y2="937.5" stroke-width="1.9"/>
<line x1="797.5" y1="933.8" x2="775.0" y2="968.8" stroke-width="1.9"/>
<line x1="846.1" y1="1042.2" x2="821.5" y2="1055.8" stroke-width="1.9"/>
<line x1="840.7" y1="1095.5" x2="816.0" y2="1109.2" stroke-width="1.9"/>
</g>
<g class="lb"><text x="380.0" y="159.6" text-anchor="middle">1</text><text x="382.5" y="109.5" text-anchor="middle">2</text><text x="513.0" y="62.0" text-anchor="middle">3</text><text x="571.2" y="103.8" text-anchor="middle">4</text><text x="600.5" y="117.8" text-anchor="middle">5</text><text x="698.8" y="156.3" text-anchor="middle">6</text><text x="799.5" y="213.8" text-anchor="middle">7</text><text x="930.0" y="300.8" text-anchor="middle">8</text><text x="1047.5" y="360.8" text-anchor="middle">9</text><text x="586.2" y="393.3" text-anchor="middle">11</text><text x="616.2" y="332.1" text-anchor="middle">12</text><text x="955.0" y="487.1" text-anchor="middle">13</text><text x="943.8" y="545.8" text-anchor="middle">14</text><text x="602.5" y="613.3" text-anchor="middle">15</text><text x="1037.5" y="658.3" text-anchor="middle">16</text><text x="1068.8" y="633.3" text-anchor="middle">17</text><text x="1105.0" y="607.0" text-anchor="middle">18</text><text x="1138.8" y="579.5" text-anchor="middle">19</text><text x="878.8" y="753.3" text-anchor="middle">20</text><text x="852.5" y="787.0" text-anchor="middle">21</text><text x="253.8" y="612.0" text-anchor="middle">22</text><text x="363.8" y="670.8" text-anchor="middle">23</text><text x="420.0" y="700.8" text-anchor="middle">24</text><text x="471.2" y="744.5" text-anchor="middle">25</text><text x="641.2" y="828.8" text-anchor="middle">26</text><text x="702.5" y="873.3" text-anchor="middle">27</text><text x="741.2" y="890.8" text-anchor="middle">28</text><text x="806.2" y="928.8" text-anchor="middle">29</text><text x="863.9" y="1045.0" text-anchor="middle">30</text><text x="857.9" y="1096.9" text-anchor="middle">31</text><text x="1005.0" y="709.5" text-anchor="middle">A</text><text x="1002.5" y="807.0" text-anchor="middle">A</text></g>
<g class="lg"><text x="67" y="1155.8">1 - Hexagon Torque Prevailing Nut</text><text x="67" y="1184.5">2 - Tie Rod Seal</text><text x="67" y="1213.2">3 - Outer Tie Road Assembly</text><text x="67" y="1241.8">4 - Hexagon Jam Nut</text><text x="67" y="1270.5">5 - Tie Rod End Clamp</text><text x="67" y="1299.2">6 - Rack and Pinion Boot</text><text x="67" y="1327.9">7 - Boot Clamp</text><text x="67" y="1356.6">8 - Inner Tie Rod Assembly</text><text x="67" y="1385.2">9 - Shock Dampener Ring</text><text x="67" y="1413.9">10 - Adjuster Plug Lock Nut</text><text x="67" y="1442.6">11 - Cylinder Line Assembly (RH)</text><text x="67" y="1471.3">12 - Cylinder Line Assembly (LH)</text></g>
</svg>
</body></html>
